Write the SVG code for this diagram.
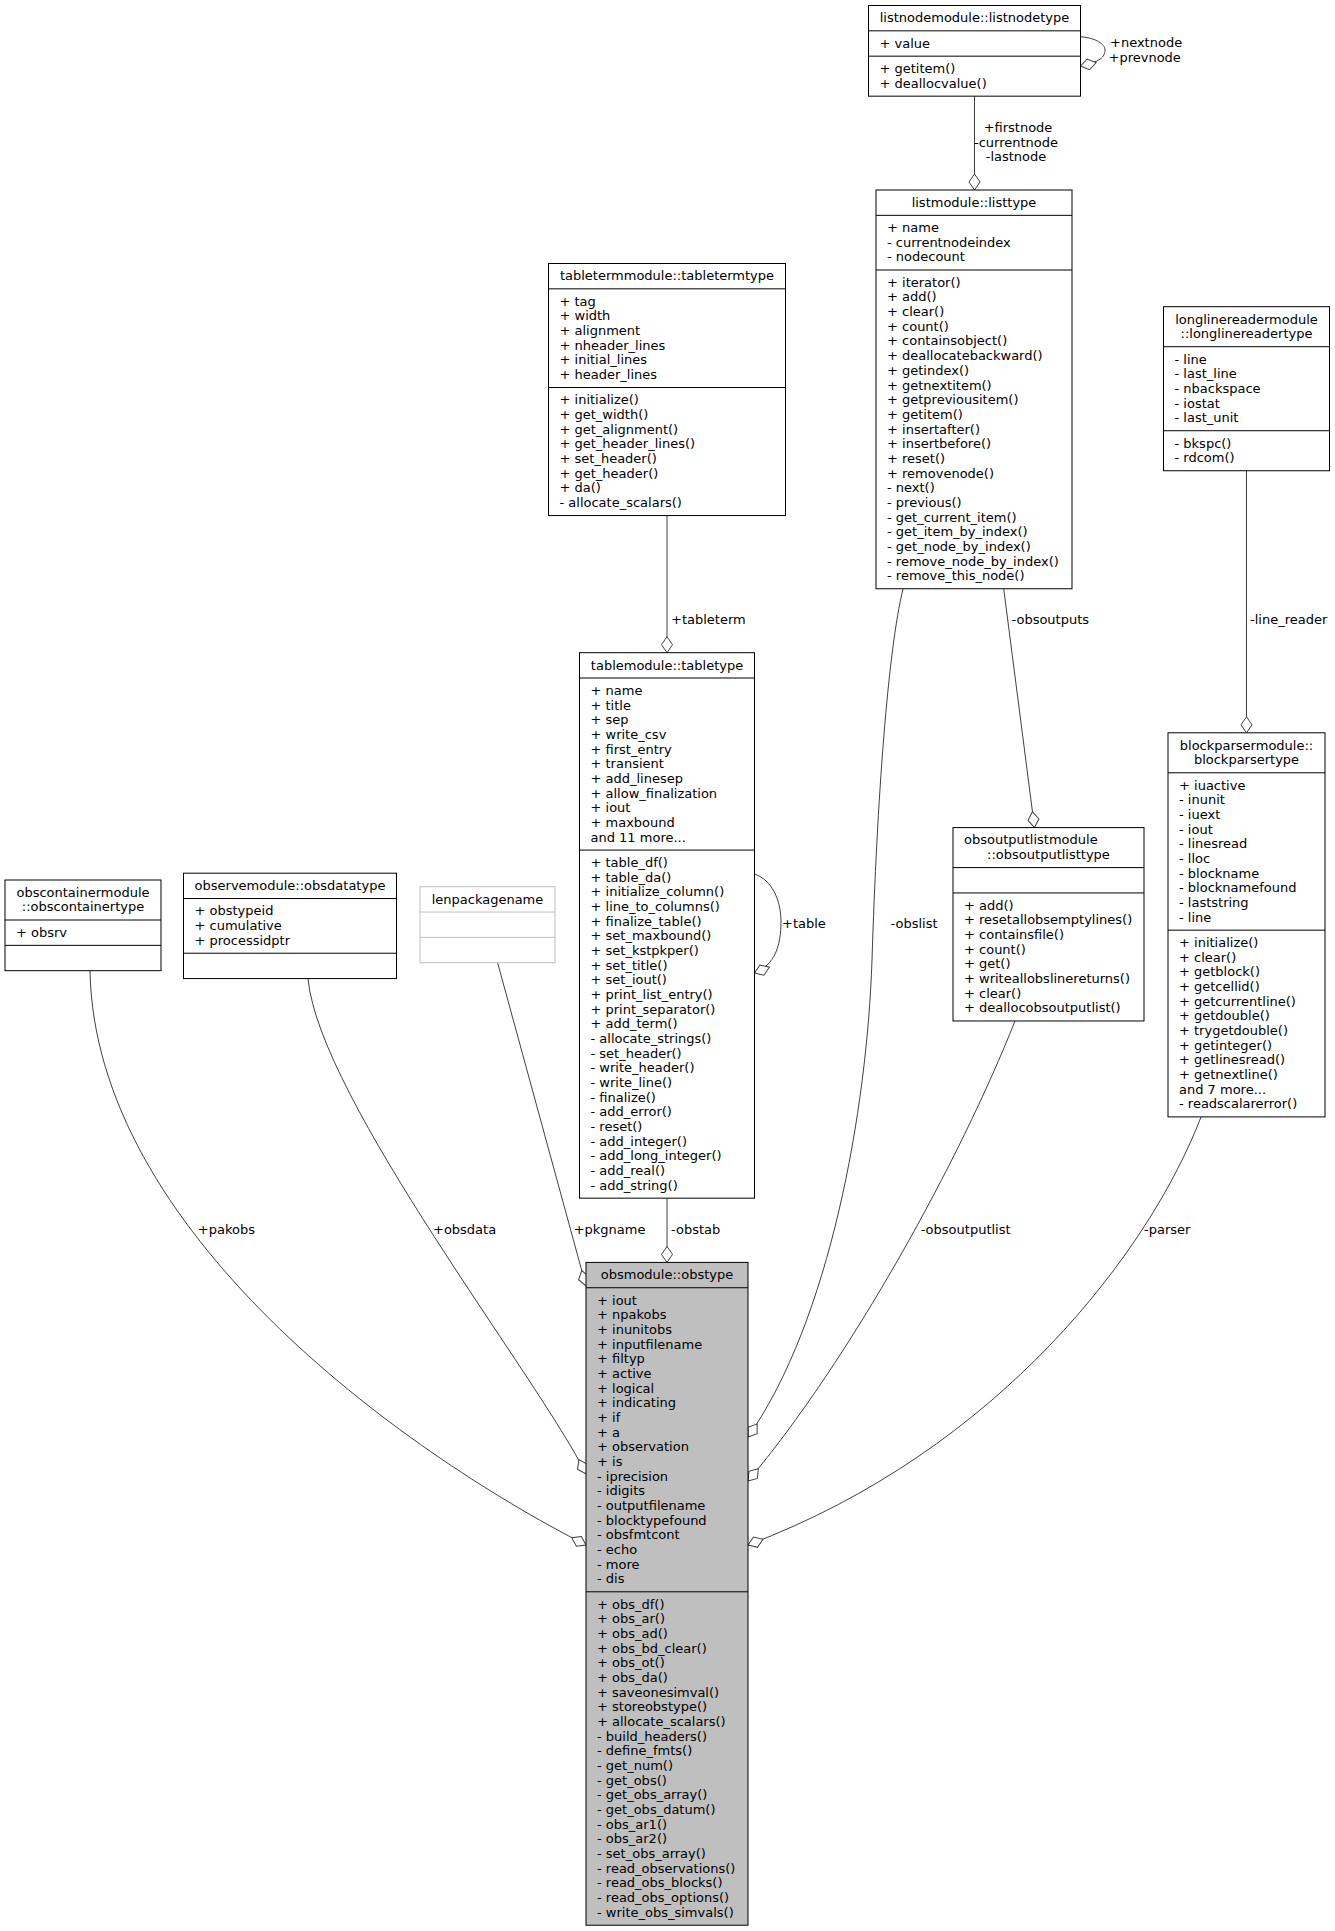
<svg xmlns="http://www.w3.org/2000/svg" width="1335" height="1931" viewBox="0 0 1335 1931">
<style>
text{font-family:"DejaVu Sans","Liberation Sans",sans-serif;font-size:13px;fill:#000}
.c{text-anchor:middle}
.box{fill:#fff;stroke:#000;stroke-width:1}
.cur{fill:#bfbfbf;stroke:#000;stroke-width:1}
.und{fill:#fff;stroke:#bfbfbf;stroke-width:1}
.sep{stroke:#000;stroke-width:1}
.usep{stroke:#bfbfbf;stroke-width:1}
.e{fill:none;stroke:#404040;stroke-width:1;marker-end:url(#od)}
</style>
<defs>
<marker id="od" markerUnits="userSpaceOnUse" markerWidth="20" markerHeight="14" refX="17" refY="7" orient="auto" overflow="visible">
<path d="M17,7 L9,1.5 L1,7 L9,12.5 Z" fill="#fff" stroke="#404040" stroke-width="1"/>
</marker>
</defs>
<rect width="1335" height="1931" fill="#fff"/>

<g id="connectors">
<path class="e" d="M1080.5,36.7 C1096,38 1105,44 1105,50 C1105,57 1100,62 1080.5,66"/>
<path class="e" d="M974.5,96.2 L974.5,190"/>
<path class="e" d="M667,515.5 L667,652.7"/>
<path class="e" d="M1246.5,470.7 L1246.5,732.8"/>
<path class="e" d="M1003.7,588.7 L1034.5,827.6"/>
<path class="e" d="M754.5,874 C772,880 781,900 781,922 C781,945 775,965 754.5,973"/>
<path class="e" d="M903,589 C888,650 877,800 872,960 C867,1110 830,1320 748,1437"/>
<path class="e" d="M90,971 C95,1230 400,1450 586,1545"/>
<path class="e" d="M308,979 C320,1100 540,1380 586,1474"/>
<path class="e" d="M497.6,962.7 L586,1286"/>
<path class="e" d="M667,1198.2 L667,1262.4"/>
<path class="e" d="M1015,1021 C960,1160 850,1360 748,1481"/>
<path class="e" d="M1201,1117 C1150,1250 1000,1450 748,1545"/>
<text x="1110" y="47">+nextnode</text>
<text x="1108.5" y="61.7">+prevnode</text>
<text class="c" x="1018" y="132">+firstnode</text>
<text class="c" x="1016" y="146.7">-currentnode</text>
<text class="c" x="1016" y="161.3">-lastnode</text>
<text x="671" y="624">+tableterm</text>
<text x="1011.5" y="624">-obsoutputs</text>
<text x="1250" y="624">-line_reader</text>
<text x="782" y="928">+table</text>
<text x="890.5" y="928">-obslist</text>
<text x="197.8" y="1233.5">+pakobs</text>
<text x="433" y="1233.5">+obsdata</text>
<text x="573.7" y="1233.5">+pkgname</text>
<text x="671" y="1233.5">-obstab</text>
<text x="920.7" y="1233.5">-obsoutputlist</text>
<text x="1144" y="1233.5">-parser</text>
</g>

<g id="listnodetype">
<rect class="box" x="868.5" y="5.5" width="212" height="90.67"/>
<line class="sep" x1="868.5" y1="30.83" x2="1080.5" y2="30.83"/>
<line class="sep" x1="868.5" y1="56.17" x2="1080.5" y2="56.17"/>
<text class="c" x="974.5" y="22.3">listnodemodule::listnodetype</text>
<text x="879.5" y="47.63">+ value</text>
<text x="879.5" y="72.97">+ getitem()<tspan x="879.5" dy="14.67">+ deallocvalue()</tspan></text>
</g>

<g id="listtype">
<rect class="box" x="876" y="190" width="196" height="398.75"/>
<line class="sep" x1="876" y1="215.33" x2="1072" y2="215.33"/>
<line class="sep" x1="876" y1="270.01" x2="1072" y2="270.01"/>
<text class="c" x="974" y="206.8">listmodule::listtype</text>
<text x="887" y="232.13">+ name<tspan x="887" dy="14.67">- currentnodeindex</tspan><tspan x="887" dy="14.67">- nodecount</tspan></text>
<text x="887" y="286.81">+ iterator()<tspan x="887" dy="14.67">+ add()</tspan><tspan x="887" dy="14.67">+ clear()</tspan><tspan x="887" dy="14.67">+ count()</tspan><tspan x="887" dy="14.67">+ containsobject()</tspan><tspan x="887" dy="14.67">+ deallocatebackward()</tspan><tspan x="887" dy="14.67">+ getindex()</tspan><tspan x="887" dy="14.67">+ getnextitem()</tspan><tspan x="887" dy="14.67">+ getpreviousitem()</tspan><tspan x="887" dy="14.67">+ getitem()</tspan><tspan x="887" dy="14.67">+ insertafter()</tspan><tspan x="887" dy="14.67">+ insertbefore()</tspan><tspan x="887" dy="14.67">+ reset()</tspan><tspan x="887" dy="14.67">+ removenode()</tspan><tspan x="887" dy="14.67">- next()</tspan><tspan x="887" dy="14.67">- previous()</tspan><tspan x="887" dy="14.67">- get_current_item()</tspan><tspan x="887" dy="14.67">- get_item_by_index()</tspan><tspan x="887" dy="14.67">- get_node_by_index()</tspan><tspan x="887" dy="14.67">- remove_node_by_index()</tspan><tspan x="887" dy="14.67">- remove_this_node()</tspan></text>
</g>

<g id="tabletermtype">
<rect class="box" x="548.5" y="263.5" width="237" height="252.05"/>
<line class="sep" x1="548.5" y1="288.83" x2="785.5" y2="288.83"/>
<line class="sep" x1="548.5" y1="387.52" x2="785.5" y2="387.52"/>
<text class="c" x="667" y="280.3">tabletermmodule::tabletermtype</text>
<text x="559.5" y="305.63">+ tag<tspan x="559.5" dy="14.67">+ width</tspan><tspan x="559.5" dy="14.67">+ alignment</tspan><tspan x="559.5" dy="14.67">+ nheader_lines</tspan><tspan x="559.5" dy="14.67">+ initial_lines</tspan><tspan x="559.5" dy="14.67">+ header_lines</tspan></text>
<text x="559.5" y="404.32">+ initialize()<tspan x="559.5" dy="14.67">+ get_width()</tspan><tspan x="559.5" dy="14.67">+ get_alignment()</tspan><tspan x="559.5" dy="14.67">+ get_header_lines()</tspan><tspan x="559.5" dy="14.67">+ set_header()</tspan><tspan x="559.5" dy="14.67">+ get_header()</tspan><tspan x="559.5" dy="14.67">+ da()</tspan><tspan x="559.5" dy="14.67">- allocate_scalars()</tspan></text>
</g>

<g id="longlinereadertype">
<rect class="box" x="1163.5" y="306.7" width="166" height="164.04"/>
<line class="sep" x1="1163.5" y1="346.71" x2="1329.5" y2="346.71"/>
<line class="sep" x1="1163.5" y1="430.73" x2="1329.5" y2="430.73"/>
<text class="c" x="1246.5" y="323.5">longlinereadermodule<tspan x="1246.5" dy="14.67">::longlinereadertype</tspan></text>
<text x="1174.5" y="363.51">- line<tspan x="1174.5" dy="14.67">- last_line</tspan><tspan x="1174.5" dy="14.67">- nbackspace</tspan><tspan x="1174.5" dy="14.67">- iostat</tspan><tspan x="1174.5" dy="14.67">- last_unit</tspan></text>
<text x="1174.5" y="447.53">- bkspc()<tspan x="1174.5" dy="14.67">- rdcom()</tspan></text>
</g>

<g id="tabletype">
<rect class="box" x="579.5" y="652.7" width="175" height="545.45"/>
<line class="sep" x1="579.5" y1="678.03" x2="754.5" y2="678.03"/>
<line class="sep" x1="579.5" y1="850.07" x2="754.5" y2="850.07"/>
<text class="c" x="667" y="669.5">tablemodule::tabletype</text>
<text x="590.5" y="694.83">+ name<tspan x="590.5" dy="14.67">+ title</tspan><tspan x="590.5" dy="14.67">+ sep</tspan><tspan x="590.5" dy="14.67">+ write_csv</tspan><tspan x="590.5" dy="14.67">+ first_entry</tspan><tspan x="590.5" dy="14.67">+ transient</tspan><tspan x="590.5" dy="14.67">+ add_linesep</tspan><tspan x="590.5" dy="14.67">+ allow_finalization</tspan><tspan x="590.5" dy="14.67">+ iout</tspan><tspan x="590.5" dy="14.67">+ maxbound</tspan><tspan x="590.5" dy="14.67">and 11 more...</tspan></text>
<text x="590.5" y="866.87">+ table_df()<tspan x="590.5" dy="14.67">+ table_da()</tspan><tspan x="590.5" dy="14.67">+ initialize_column()</tspan><tspan x="590.5" dy="14.67">+ line_to_columns()</tspan><tspan x="590.5" dy="14.67">+ finalize_table()</tspan><tspan x="590.5" dy="14.67">+ set_maxbound()</tspan><tspan x="590.5" dy="14.67">+ set_kstpkper()</tspan><tspan x="590.5" dy="14.67">+ set_title()</tspan><tspan x="590.5" dy="14.67">+ set_iout()</tspan><tspan x="590.5" dy="14.67">+ print_list_entry()</tspan><tspan x="590.5" dy="14.67">+ print_separator()</tspan><tspan x="590.5" dy="14.67">+ add_term()</tspan><tspan x="590.5" dy="14.67">- allocate_strings()</tspan><tspan x="590.5" dy="14.67">- set_header()</tspan><tspan x="590.5" dy="14.67">- write_header()</tspan><tspan x="590.5" dy="14.67">- write_line()</tspan><tspan x="590.5" dy="14.67">- finalize()</tspan><tspan x="590.5" dy="14.67">- add_error()</tspan><tspan x="590.5" dy="14.67">- reset()</tspan><tspan x="590.5" dy="14.67">- add_integer()</tspan><tspan x="590.5" dy="14.67">- add_long_integer()</tspan><tspan x="590.5" dy="14.67">- add_real()</tspan><tspan x="590.5" dy="14.67">- add_string()</tspan></text>
</g>

<g id="blockparsertype">
<rect class="box" x="1168" y="732.8" width="157" height="384.09"/>
<line class="sep" x1="1168" y1="772.81" x2="1325" y2="772.81"/>
<line class="sep" x1="1168" y1="930.18" x2="1325" y2="930.18"/>
<text class="c" x="1246.5" y="749.6">blockparsermodule::<tspan x="1246.5" dy="14.67">blockparsertype</tspan></text>
<text x="1179" y="789.61">+ iuactive<tspan x="1179" dy="14.67">- inunit</tspan><tspan x="1179" dy="14.67">- iuext</tspan><tspan x="1179" dy="14.67">- iout</tspan><tspan x="1179" dy="14.67">- linesread</tspan><tspan x="1179" dy="14.67">- lloc</tspan><tspan x="1179" dy="14.67">- blockname</tspan><tspan x="1179" dy="14.67">- blocknamefound</tspan><tspan x="1179" dy="14.67">- laststring</tspan><tspan x="1179" dy="14.67">- line</tspan></text>
<text x="1179" y="946.98">+ initialize()<tspan x="1179" dy="14.67">+ clear()</tspan><tspan x="1179" dy="14.67">+ getblock()</tspan><tspan x="1179" dy="14.67">+ getcellid()</tspan><tspan x="1179" dy="14.67">+ getcurrentline()</tspan><tspan x="1179" dy="14.67">+ getdouble()</tspan><tspan x="1179" dy="14.67">+ trygetdouble()</tspan><tspan x="1179" dy="14.67">+ getinteger()</tspan><tspan x="1179" dy="14.67">+ getlinesread()</tspan><tspan x="1179" dy="14.67">+ getnextline()</tspan><tspan x="1179" dy="14.67">and 7 more...</tspan><tspan x="1179" dy="14.67">- readscalarerror()</tspan></text>
</g>

<g id="obsoutputlisttype">
<rect class="box" x="953" y="827.6" width="191" height="193.38"/>
<line class="sep" x1="953" y1="867.61" x2="1144" y2="867.61"/>
<line class="sep" x1="953" y1="892.95" x2="1144" y2="892.95"/>
<text x="964" y="844.4">obsoutputlistmodule</text>
<text class="c" x="1048.5" y="859.07">::obsoutputlisttype</text>
<text x="964" y="909.75">+ add()<tspan x="964" dy="14.67">+ resetallobsemptylines()</tspan><tspan x="964" dy="14.67">+ containsfile()</tspan><tspan x="964" dy="14.67">+ count()</tspan><tspan x="964" dy="14.67">+ get()</tspan><tspan x="964" dy="14.67">+ writeallobslinereturns()</tspan><tspan x="964" dy="14.67">+ clear()</tspan><tspan x="964" dy="14.67">+ deallocobsoutputlist()</tspan></text>
</g>

<g id="obscontainertype">
<rect class="box" x="5" y="880" width="156" height="90.69"/>
<line class="sep" x1="5" y1="920.01" x2="161" y2="920.01"/>
<line class="sep" x1="5" y1="945.35" x2="161" y2="945.35"/>
<text class="c" x="83" y="896.8">obscontainermodule<tspan x="83" dy="14.67">::obscontainertype</tspan></text>
<text x="16" y="936.81">+ obsrv</text>
</g>

<g id="obsdatatype">
<rect class="box" x="183.5" y="873.2" width="213" height="105.36"/>
<line class="sep" x1="183.5" y1="898.54" x2="396.5" y2="898.54"/>
<line class="sep" x1="183.5" y1="953.22" x2="396.5" y2="953.22"/>
<text class="c" x="290" y="890">observemodule::obsdatatype</text>
<text x="194.5" y="915.34">+ obstypeid<tspan x="194.5" dy="14.67">+ cumulative</tspan><tspan x="194.5" dy="14.67">+ processidptr</tspan></text>
</g>

<g id="lenpackagename">
<rect class="und" x="420" y="886.7" width="135" height="76.02"/>
<line class="usep" x1="420" y1="912.04" x2="555" y2="912.04"/>
<line class="usep" x1="420" y1="937.38" x2="555" y2="937.38"/>
<text class="c" x="487.5" y="903.5">lenpackagename</text>
</g>

<g id="obstype">
<rect class="cur" x="586" y="1262.4" width="162" height="662.82"/>
<line class="sep" x1="586" y1="1287.74" x2="748" y2="1287.74"/>
<line class="sep" x1="586" y1="1591.81" x2="748" y2="1591.81"/>
<text class="c" x="667" y="1279.2">obsmodule::obstype</text>
<text x="597" y="1304.54">+ iout<tspan x="597" dy="14.67">+ npakobs</tspan><tspan x="597" dy="14.67">+ inunitobs</tspan><tspan x="597" dy="14.67">+ inputfilename</tspan><tspan x="597" dy="14.67">+ filtyp</tspan><tspan x="597" dy="14.67">+ active</tspan><tspan x="597" dy="14.67">+ logical</tspan><tspan x="597" dy="14.67">+ indicating</tspan><tspan x="597" dy="14.67">+ if</tspan><tspan x="597" dy="14.67">+ a</tspan><tspan x="597" dy="14.67">+ observation</tspan><tspan x="597" dy="14.67">+ is</tspan><tspan x="597" dy="14.67">- iprecision</tspan><tspan x="597" dy="14.67">- idigits</tspan><tspan x="597" dy="14.67">- outputfilename</tspan><tspan x="597" dy="14.67">- blocktypefound</tspan><tspan x="597" dy="14.67">- obsfmtcont</tspan><tspan x="597" dy="14.67">- echo</tspan><tspan x="597" dy="14.67">- more</tspan><tspan x="597" dy="14.67">- dis</tspan></text>
<text x="597" y="1608.61">+ obs_df()<tspan x="597" dy="14.67">+ obs_ar()</tspan><tspan x="597" dy="14.67">+ obs_ad()</tspan><tspan x="597" dy="14.67">+ obs_bd_clear()</tspan><tspan x="597" dy="14.67">+ obs_ot()</tspan><tspan x="597" dy="14.67">+ obs_da()</tspan><tspan x="597" dy="14.67">+ saveonesimval()</tspan><tspan x="597" dy="14.67">+ storeobstype()</tspan><tspan x="597" dy="14.67">+ allocate_scalars()</tspan><tspan x="597" dy="14.67">- build_headers()</tspan><tspan x="597" dy="14.67">- define_fmts()</tspan><tspan x="597" dy="14.67">- get_num()</tspan><tspan x="597" dy="14.67">- get_obs()</tspan><tspan x="597" dy="14.67">- get_obs_array()</tspan><tspan x="597" dy="14.67">- get_obs_datum()</tspan><tspan x="597" dy="14.67">- obs_ar1()</tspan><tspan x="597" dy="14.67">- obs_ar2()</tspan><tspan x="597" dy="14.67">- set_obs_array()</tspan><tspan x="597" dy="14.67">- read_observations()</tspan><tspan x="597" dy="14.67">- read_obs_blocks()</tspan><tspan x="597" dy="14.67">- read_obs_options()</tspan><tspan x="597" dy="14.67">- write_obs_simvals()</tspan></text>
</g>
</svg>
